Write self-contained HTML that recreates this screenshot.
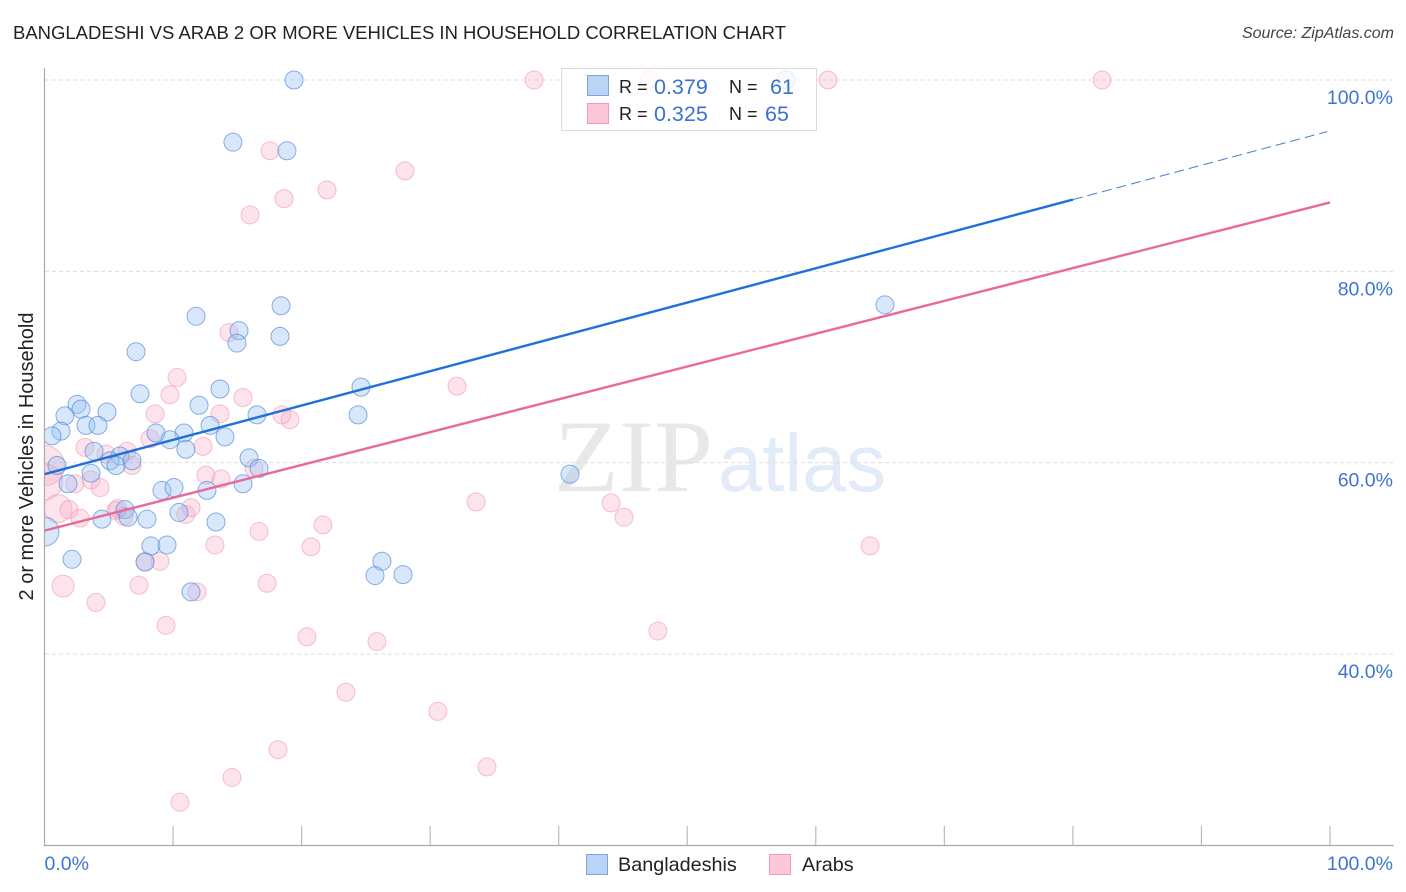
<!DOCTYPE html>
<html lang="en">
<head>
<meta charset="utf-8">
<title>Bangladeshi vs Arab 2 or more Vehicles in Household Correlation Chart</title>
<style>
html,body{margin:0;padding:0;background:#fff;width:1406px;height:892px;overflow:hidden}
svg{display:block}
text{font-family:"Liberation Sans",sans-serif}
</style>
</head>
<body>
<svg id="chart" xmlns="http://www.w3.org/2000/svg" width="1406" height="892" viewBox="0 0 1406 892">
  <defs><clipPath id="plot-clip"><rect x="45" y="40" width="1350" height="805"/></clipPath></defs>
  <rect x="0" y="0" width="1406" height="892" fill="#fff"/>
  <text x="13" y="39" font-size="18.5" fill="#222" textLength="773" lengthAdjust="spacingAndGlyphs">BANGLADESHI VS ARAB 2 OR MORE VEHICLES IN HOUSEHOLD CORRELATION CHART</text>
  <text x="1394" y="38" font-size="16" font-style="italic" fill="#444" text-anchor="end">Source: ZipAtlas.com</text>
  <text x="554" y="491" font-size="103" fill="#e8e8e8" style="font-family:'Liberation Serif',serif" textLength="159" lengthAdjust="spacingAndGlyphs">ZIP</text>
  <text x="718" y="491" font-size="82" fill="#e2ecf9" textLength="168" lengthAdjust="spacingAndGlyphs">atlas</text>
  <g id="grid"></g>
  <g id="axes"></g>
  <g id="pink-points" clip-path="url(#plot-clip)"></g>
  <g id="blue-points" clip-path="url(#plot-clip)"></g>
  <g id="trends"></g>
  <g>
    <rect x="561.5" y="68.5" width="255" height="62" fill="#fff" fill-opacity="0.8" stroke="#dcdcdc" stroke-width="1"/>
    <rect x="587.5" y="75.5" width="21" height="20" fill="#b9d4f6" stroke="#7ba6e0"/>
    <rect x="587.5" y="103.5" width="21" height="20" fill="#fcc8d9" stroke="#f09ab6"/>
    <text x="619" y="93" font-size="18" fill="#222">R =</text>
    <text x="654" y="94" font-size="21.5" fill="#3a72d0">0.379</text>
    <text x="729" y="93" font-size="18" fill="#222">N =</text>
    <text x="770" y="94" font-size="21.5" fill="#3a72d0">61</text>
    <text x="619" y="120" font-size="18" fill="#222">R =</text>
    <text x="654" y="121" font-size="21.5" fill="#3a72d0">0.325</text>
    <text x="729" y="120" font-size="18" fill="#222">N =</text>
    <text x="765" y="121" font-size="21.5" fill="#3a72d0">65</text>
  </g>
  <g>
    <rect x="586.5" y="854.5" width="21" height="20" fill="#b9d4f6" stroke="#7ba6e0"/>
    <text x="618" y="871" font-size="19.8" fill="#222">Bangladeshis</text>
    <rect x="769.5" y="854.5" width="21" height="20" fill="#fcc8d9" stroke="#f09ab6"/>
    <text x="802" y="871" font-size="19.8" fill="#222">Arabs</text>
  </g>
  <text transform="translate(33,456.5) rotate(-90)" font-size="20" fill="#222" text-anchor="middle">2 or more Vehicles in Household</text>
</svg>
<script>
const blueX = [19.41,14.66,18.86,18.40,11.79,15.13,14.97,18.32,7.12,7.43,13.65,24.62,2.53,2.84,1.59,4.86,12.02,16.53,24.39,1.28,0.58,3.23,4.16,12.88,10.85,8.67,9.76,14.04,11.0,3.85,5.87,5.10,6.81,5.56,0.97,3.62,15.91,16.69,15.44,1.83,9.14,10.07,12.64,40.88,6.26,4.47,6.50,7.97,10.46,13.34,0.0,2.14,8.28,9.53,7.82,11.4,26.25,25.71,27.89,65.38,57.68];
const blueY = [100,93.5,92.6,76.4,75.3,73.8,72.5,73.2,71.6,67.2,67.7,67.9,66.1,65.6,64.9,65.3,66.0,65.0,65.0,63.3,62.8,63.9,63.9,63.9,63.1,63.1,62.4,62.7,61.4,61.2,60.7,60.2,60.2,59.7,59.7,58.9,60.5,59.4,57.8,57.8,57.1,57.4,57.1,58.8,55.1,54.1,54.3,54.1,54.8,53.8,52.8,49.9,51.3,51.4,49.6,46.5,49.7,48.2,48.3,76.5,100];
const blueWeight = [1,1,1,1,1,1,1,1,1,1,1,1,1,1,1,1,1,1,1,1,1,1,1,1,1,1,1,1,1,1,1,1,1,1,1,1,1,1,1,1,1,1,1,1,1,1,1,1,1,1,2.6,1,1,1,1,1,1,1,1,1,1];
const pinkX = [38.08,47.03,60.95,82.27,17.54,28.04,21.98,18.63,15.99,14.35,10.31,9.76,15.44,32.09,8.6,13.65,18.47,19.1,3.15,8.21,12.33,6.42,4.78,6.81,16.3,12.56,13.73,3.62,2.37,4.32,0.0,0.0,1.05,1.9,2.76,5.56,6.18,5.7,11.0,11.4,33.57,44.07,45.08,21.66,16.69,13.26,20.73,64.22,8.98,7.82,1.44,7.35,17.31,4.0,11.86,9.45,47.72,20.42,25.86,23.45,30.6,18.16,14.58,34.42,10.54];
const pinkY = [100,100,100,100,92.6,90.5,88.5,87.6,85.9,73.6,68.9,67.1,66.8,68.0,65.1,65.1,65.0,64.5,61.6,62.5,61.7,61.2,60.9,59.7,59.4,58.7,58.3,58.2,57.8,57.4,59.7,58.0,55.2,55.1,54.2,55.0,54.4,55.2,54.6,55.3,55.9,55.8,54.3,53.5,52.8,51.4,51.2,51.3,49.7,49.7,47.1,47.2,47.4,45.4,46.5,43.0,42.4,41.8,41.3,36.0,34.0,30.0,27.1,28.2,24.5];
const pinkWeight = [1,1,1,1,1,1,1,1,1,1,1,1,1,1,1,1,1,1,1,1,1,1,1,1,1,1,1,1,1,1,5,4,2.4,1,1,1,1,1,1,1,1,1,1,1,1,1,1,1,1,1,1.5,1,1,1,1,1,1,1,1,1,1,1,1,1,1];
const blueTrendX = [0,80];
const blueTrendY = [58.8,87.5];
const blueForecastX = [80,99.77];
const blueForecastY = [87.5,94.6];
const pinkTrendX = [0,100];
const pinkTrendY = [52.9,87.2];
const yTickValues = [100,80,60,40];
const yTickLabels = ['100.0%','80.0%','60.0%','40.0%'];
const xTickValues = [10,20,30,40,50,60,70,80,90,100];
const xEndValues = [0,100];
const xEndLabels = ['0.0%','100.0%'];

const NS = 'http://www.w3.org/2000/svg';
function xScale(v){ return 44.5 + v * 12.855; }
function yScale(v){ return 80 + (100 - v) * 9.567; }
function radius(w){ return 9 * Math.sqrt(w); }
function mk(tag, parent, attrs){
  const el = document.createElementNS(NS, tag);
  for (const k in attrs) el.setAttribute(k, attrs[k]);
  parent.appendChild(el);
  return el;
}

const grid = document.getElementById('grid');
yTickValues.forEach(function(v){
  const l = mk('line', grid, {x1:45, x2:1394, y1:yScale(v), y2:yScale(v), stroke:'#dedede', 'stroke-width':1, 'stroke-dasharray':'4 3'});
  
  
});

const axes = document.getElementById('axes');
const yAxis = mk('line', axes, {x1:44.5, x2:44.5, y1:68, y2:846, stroke:'#aaa', 'stroke-width':1.2});


const xAxis = mk('line', axes, {x1:44, x2:1394, y1:845.5, y2:845.5, stroke:'#aaa', 'stroke-width':1.2});


xTickValues.forEach(function(v){
  const t = mk('line', axes, {x1:xScale(v), x2:xScale(v), y1:826, y2:845, stroke:'#bbb', 'stroke-width':1.2});
  
  
});
yTickValues.forEach(function(v, i){
  const t = mk('text', axes, {x:1393, y:yScale(v) + 24, 'font-size':19.5, fill:'#3f74d2', 'text-anchor':'end'});
  t.textContent = yTickLabels[i];
  
  
});
xEndValues.forEach(function(v, i){
  const t = mk('text', axes, {x:i === 0 ? xScale(v) : 1393, y:870, 'font-size':19.5, fill:'#3f74d2', 'text-anchor':i === 0 ? 'start' : 'end'});
  t.textContent = xEndLabels[i];
  
  
});

const pinkGroup = document.getElementById('pink-points');
pinkX.forEach(function(x, i){
  const c = mk('circle', pinkGroup, {cx:xScale(x), cy:yScale(pinkY[i]), r:radius(pinkWeight[i]), fill:'#f9a8c4', 'fill-opacity':0.32, stroke:'#ee8fae', 'stroke-opacity':0.55, 'stroke-width':1});
  
  
});
const blueGroup = document.getElementById('blue-points');
blueX.forEach(function(x, i){
  const c = mk('circle', blueGroup, {cx:xScale(x), cy:yScale(blueY[i]), r:radius(blueWeight[i]), fill:'#94bff0', 'fill-opacity':0.36, stroke:'#4c86d8', 'stroke-opacity':0.65, 'stroke-width':1});
  
  
});

const trends = document.getElementById('trends');
const pinkLine = mk('line', trends, {x1:xScale(pinkTrendX[0]), y1:yScale(pinkTrendY[0]), x2:xScale(pinkTrendX[1]), y2:yScale(pinkTrendY[1]), stroke:'#e8699a', 'stroke-width':2.4});


const blueLine = mk('line', trends, {x1:xScale(blueTrendX[0]), y1:yScale(blueTrendY[0]), x2:xScale(blueTrendX[1]), y2:yScale(blueTrendY[1]), stroke:'#2070d8', 'stroke-width':2.4});


const blueDash = mk('line', trends, {x1:xScale(blueForecastX[0]), y1:yScale(blueForecastY[0]), x2:xScale(blueForecastX[1]), y2:yScale(blueForecastY[1]), stroke:'#4c80c8', 'stroke-width':1, 'stroke-dasharray':'10 5'});


</script>
</body>
</html>
